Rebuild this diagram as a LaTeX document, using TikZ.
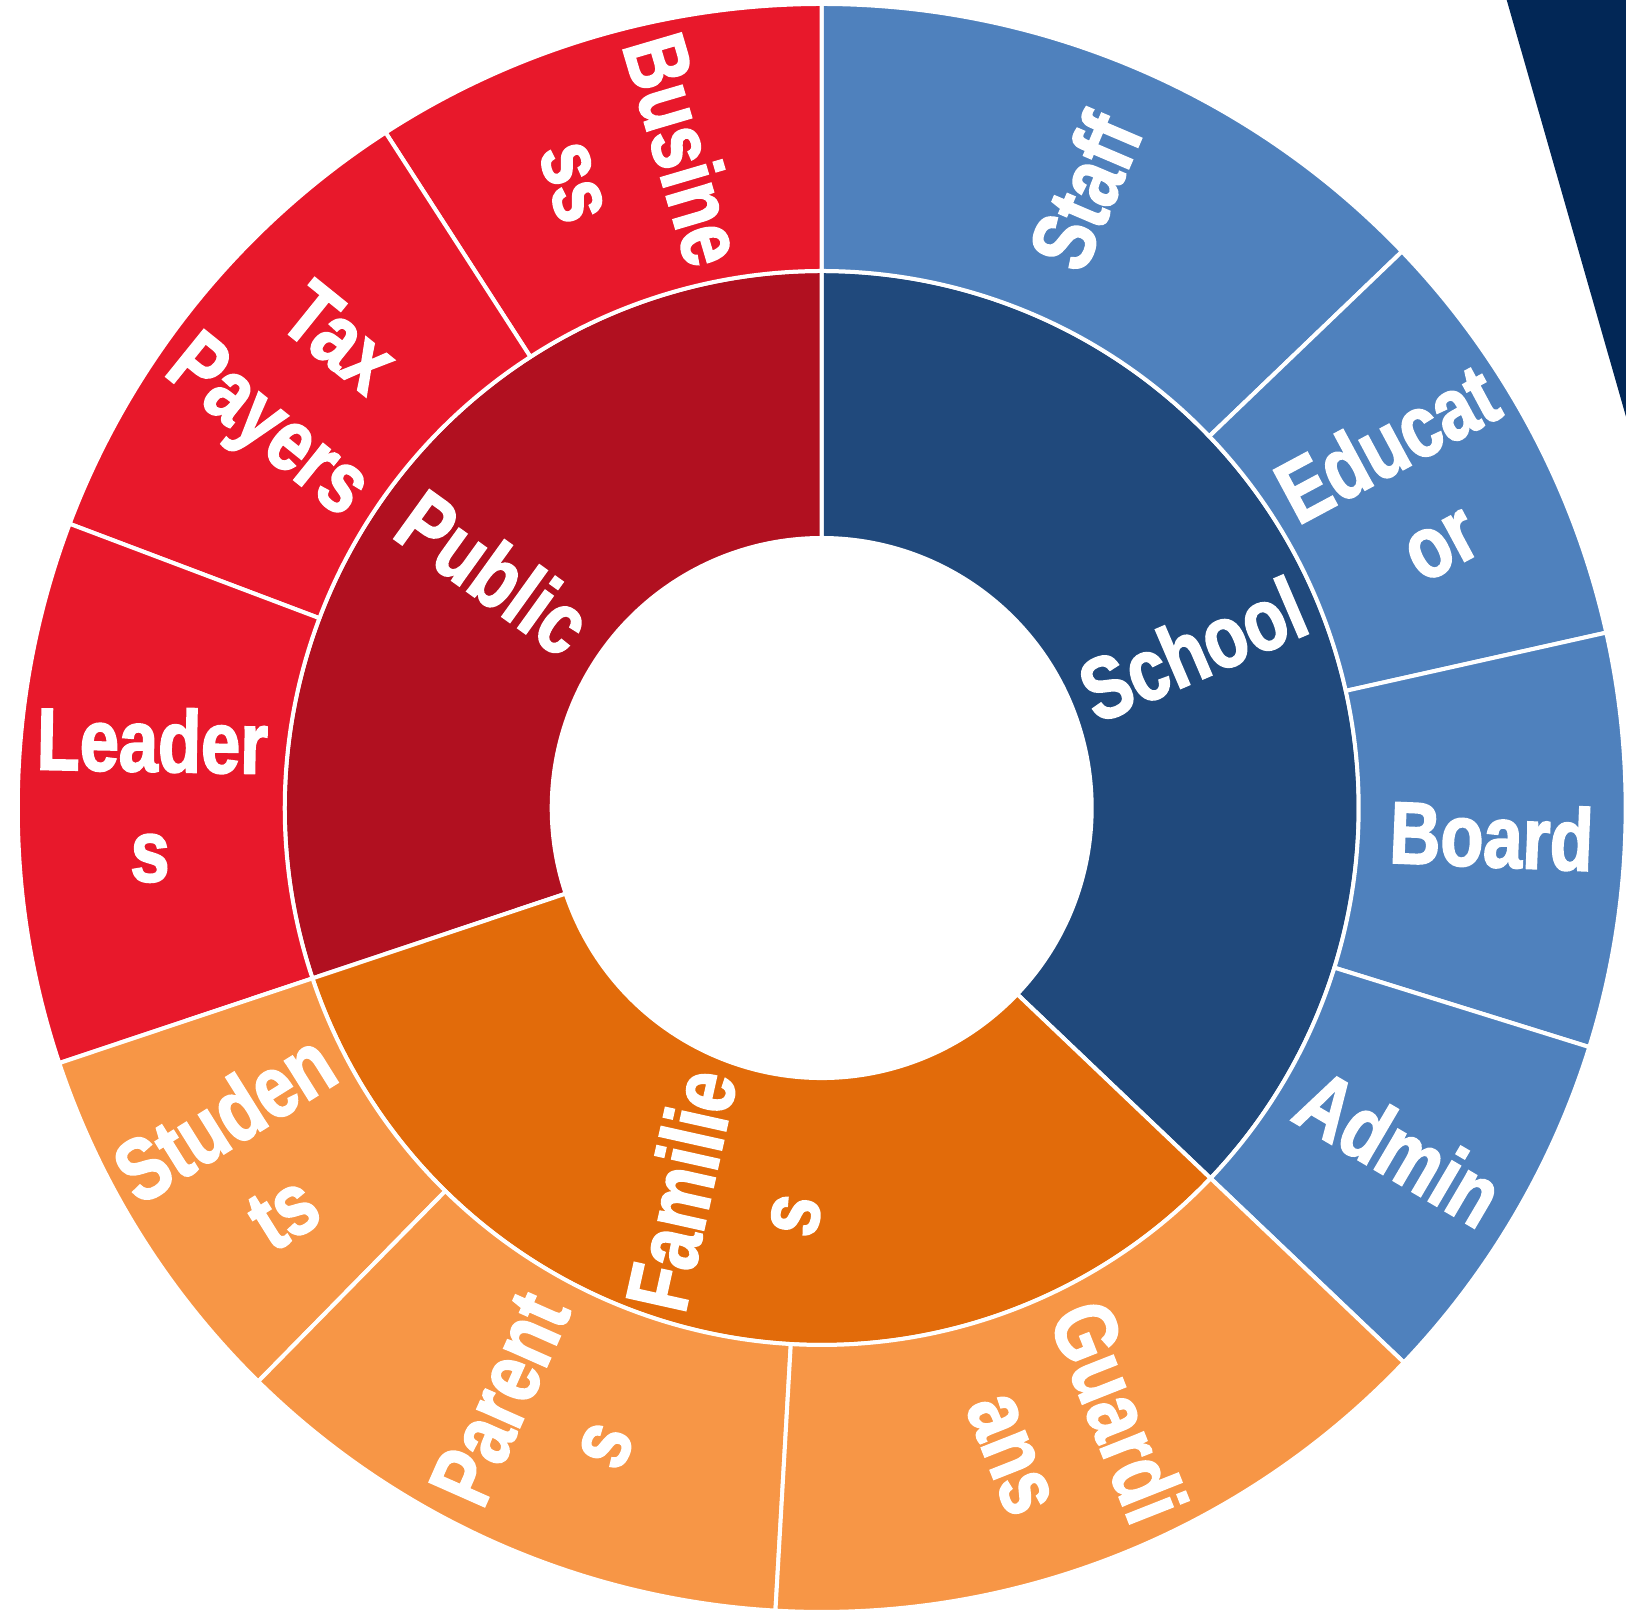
\documentclass[tikz,border=0pt]{standalone}
\usepackage{fontspec}
\newfontfamily\labfont{Liberation Sans}[FakeStretch=0.8,FakeBold=2]
\definecolor{schoolc}{RGB}{32,73,124}
\definecolor{schoolo}{RGB}{79,129,189}
\definecolor{publicc}{RGB}{177,16,32}
\definecolor{publico}{RGB}{232,24,43}
\definecolor{famc}{RGB}{226,107,10}
\definecolor{famo}{RGB}{247,150,70}
\definecolor{navyc}{RGB}{2,39,86}
\newcommand\sunsector[5]{\path[fill=#5,draw=white,line width=4pt,line join=round] (#1:#3) arc[start angle=#1,end angle=#2,radius=#3] -- (#2:#4) arc[start angle=#2,end angle=#1,radius=#4] -- cycle;}
\begin{document}
\begin{tikzpicture}[x=1pt,y=1pt,
  lab/.style={text=white,inner sep=0pt,align=center,font={\labfont\bfseries\fontsize{88}{110}\selectfont}}]
\useasboundingbox (0,0) rectangle (1626,1614);
\fill[white] (0,0) rectangle (1626,1614);
\fill[navyc] (1506.7,1614) -- (1626,1614) -- (1626,1197.3) -- cycle;
\begin{scope}[shift={(821.7,806)}]
% inner ring
\sunsector{-43.6}{90}{270}{537}{schoolc}
\sunsector{90}{198.5}{270}{537}{publicc}
\sunsector{198.5}{316.4}{270}{537}{famc}
% outer ring
\sunsector{43.8}{90}{537}{804}{schoolo}
\sunsector{12.6}{43.8}{537}{804}{schoolo}
\sunsector{-17.3}{12.6}{537}{804}{schoolo}
\sunsector{-43.6}{-17.3}{537}{804}{schoolo}
\sunsector{90}{122.85}{537}{804}{publico}
\sunsector{122.85}{159.3}{537}{804}{publico}
\sunsector{159.3}{198.5}{537}{804}{publico}
\sunsector{198.5}{225.5}{537}{804}{famo}
\sunsector{225.5}{266.7}{537}{804}{famo}
\sunsector{266.7}{316.4}{537}{804}{famo}
% inner labels
\node[lab,rotate=23.2] (school) at (23.2:403.5) {School};
\node[lab,rotate=-35.75] (public) at (144.25:403.5) {Public};
\node[lab,rotate=77.45] (families) at (257.45:403.5) {Familie\\s};
% outer labels
\node[lab,rotate=66.9] (staff) at (66.9:670.5) {Staff};
\node[lab,rotate=28.2] (educator) at (28.2:670.5) {Educat\\or};
\node[lab,rotate=-2.35] (board) at (-2.35:670.5) {Board};
\node[lab,rotate=-30.45] (admin) at (-30.45:670.5) {Admin};
\node[lab,rotate=-68.45] (guardians) at (-68.45:670.5) {Guardi\\ans};
\node[lab,rotate=66.1] (parents) at (246.1:670.5) {Parent\\s};
\node[lab,rotate=32] (students) at (212:670.5) {Studen\\ts};
\node[lab,rotate=-1.1] (leaders) at (178.9:670.5) {Leader\\s};
\node[lab,rotate=-38.9] (taxpayers) at (141.1:670.5) {Tax\\Payers};
\node[lab,rotate=-73.6] (business) at (106.4:670.5) {Busine\\ss};
\end{scope}
\end{tikzpicture}
\end{document}
